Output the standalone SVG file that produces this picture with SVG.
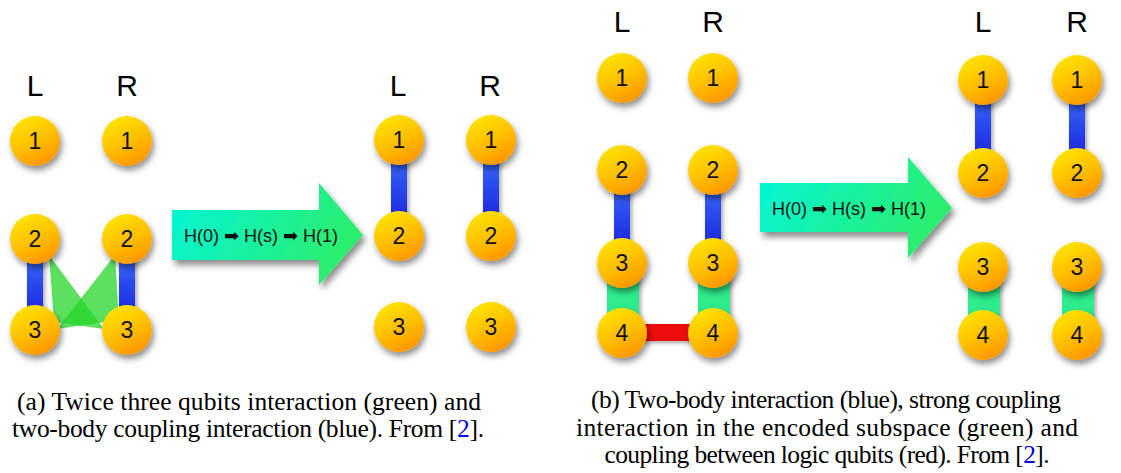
<svg xmlns="http://www.w3.org/2000/svg" width="1121" height="473" viewBox="0 0 1121 473">
<defs>
<linearGradient id="gBall" x1="0.25" y1="0" x2="0.75" y2="1">
<stop offset="0" stop-color="#FFE600"/>
<stop offset="0.5" stop-color="#FFC000"/>
<stop offset="1" stop-color="#FF9200"/>
</linearGradient>
<linearGradient id="gBlue" x1="0" y1="0" x2="0" y2="1">
<stop offset="0" stop-color="#3F7BFF"/>
<stop offset="1" stop-color="#1414D8"/>
</linearGradient>
<linearGradient id="gArrow" x1="0" y1="0" x2="1" y2="0.3">
<stop offset="0" stop-color="#00F5DC"/>
<stop offset="1" stop-color="#2BEE6E"/>
</linearGradient>
<filter id="shBall" x="-40%" y="-40%" width="180%" height="190%">
<feDropShadow dx="2" dy="4" stdDeviation="3" flood-color="#000" flood-opacity="0.45"/>
</filter>
<filter id="shBar" x="-60%" y="-30%" width="220%" height="160%">
<feDropShadow dx="2" dy="2" stdDeviation="2" flood-color="#000" flood-opacity="0.35"/>
</filter>
<filter id="shArrow" x="-10%" y="-20%" width="125%" height="150%">
<feDropShadow dx="3" dy="5" stdDeviation="3" flood-color="#000" flood-opacity="0.45"/>
</filter>
</defs>
<style>
.ball{fill:url(#gBall);filter:url(#shBall)}
.num{font-family:"Liberation Sans",Arial,sans-serif;font-size:23px;fill:#111;text-anchor:middle}
.lbl{font-family:"Liberation Sans",Arial,sans-serif;font-size:30px;fill:#000;text-anchor:middle}
.blue{fill:url(#gBlue);filter:url(#shBar)}
.green{fill:#2EEB8C;filter:url(#shBar)}
.red{fill:#EE1111;filter:url(#shBar)}
.tri{fill:#25D52A;fill-opacity:0.75}
.arrow{fill:url(#gArrow);filter:url(#shArrow)}
.atext{font-family:"Liberation Sans","DejaVu Sans",Arial,sans-serif;font-size:18px;fill:#111;text-anchor:middle}
.cap{font-family:"Liberation Serif","Times New Roman",serif;font-size:25.5px;fill:#000;text-anchor:middle}
.ref{fill:#0000EE}
</style>
<rect width="1121" height="473" fill="#fff"/>

<!-- labels -->
<g id="labels">
<text class="lbl" x="35" y="96">L</text>
<text class="lbl" x="127" y="96">R</text>
<text class="lbl" x="398" y="96">L</text>
<text class="lbl" x="490" y="96">R</text>
<text class="lbl" x="622" y="32">L</text>
<text class="lbl" x="713" y="32">R</text>
<text class="lbl" x="983" y="32">L</text>
<text class="lbl" x="1077" y="32">R</text>
</g>

<!-- connectors -->
<g id="connectors">
<!-- panel a, left -->
<rect class="blue" x="27" y="240" width="16" height="90"/>
<rect class="blue" x="119" y="240" width="16" height="90"/>
<polygon class="tri" points="49,255 54,322 104,329"/>
<polygon class="tri" points="115,255 119,320 57,329"/>
<!-- panel a, right -->
<rect class="blue" x="391" y="140" width="16" height="96"/>
<rect class="blue" x="483" y="140" width="16" height="96"/>
<!-- panel b, left -->
<rect class="blue" x="614" y="170" width="16" height="93"/>
<rect class="blue" x="705" y="170" width="16" height="93"/>
<rect class="green" x="607" y="263" width="32" height="70"/>
<rect class="green" x="698" y="263" width="32" height="70"/>
<rect class="red" x="622" y="324" width="91" height="17"/>
<!-- panel b, right -->
<rect class="blue" x="975" y="80" width="16" height="93"/>
<rect class="blue" x="1069" y="80" width="16" height="93"/>
<rect class="green" x="968" y="267" width="32" height="68"/>
<rect class="green" x="1062" y="267" width="32" height="68"/>
</g>

<!-- arrows -->
<g id="arrow-a">
<polygon class="arrow" points="172,210 319,210 319,183 363,235 319,285 319,260 172,260"/>
<text class="atext" x="261" y="242">H(0) ➡ H(s) ➡ H(1)</text>
</g>
<g id="arrow-b">
<polygon class="arrow" points="760,183 908,183 908,157 952,208 908,258 908,232 760,232"/>
<text class="atext" x="849" y="215">H(0) ➡ H(s) ➡ H(1)</text>
</g>

<!-- panel a, left nodes -->
<g id="a1-L1"><circle class="ball" cx="35" cy="141" r="25"/><text class="num" x="35" y="149">1</text></g>
<g id="a1-R1"><circle class="ball" cx="127" cy="141" r="25"/><text class="num" x="127" y="149">1</text></g>
<g id="a1-L2"><circle class="ball" cx="35" cy="239" r="25"/><text class="num" x="35" y="247">2</text></g>
<g id="a1-R2"><circle class="ball" cx="127" cy="239" r="25"/><text class="num" x="127" y="247">2</text></g>
<g id="a1-L3"><circle class="ball" cx="35" cy="330" r="25"/><text class="num" x="35" y="338">3</text></g>
<g id="a1-R3"><circle class="ball" cx="127" cy="330" r="25"/><text class="num" x="127" y="338">3</text></g>

<!-- panel a, right nodes -->
<g id="a2-L1"><circle class="ball" cx="399" cy="140" r="25"/><text class="num" x="399" y="148">1</text></g>
<g id="a2-R1"><circle class="ball" cx="491" cy="140" r="25"/><text class="num" x="491" y="148">1</text></g>
<g id="a2-L2"><circle class="ball" cx="399" cy="236" r="25"/><text class="num" x="399" y="244">2</text></g>
<g id="a2-R2"><circle class="ball" cx="491" cy="236" r="25"/><text class="num" x="491" y="244">2</text></g>
<g id="a2-L3"><circle class="ball" cx="399" cy="327" r="25"/><text class="num" x="399" y="335">3</text></g>
<g id="a2-R3"><circle class="ball" cx="491" cy="327" r="25"/><text class="num" x="491" y="335">3</text></g>

<!-- panel b, left nodes -->
<g id="b1-L1"><circle class="ball" cx="622" cy="78" r="25"/><text class="num" x="622" y="86">1</text></g>
<g id="b1-R1"><circle class="ball" cx="713" cy="78" r="25"/><text class="num" x="713" y="86">1</text></g>
<g id="b1-L2"><circle class="ball" cx="622" cy="170" r="25"/><text class="num" x="622" y="178">2</text></g>
<g id="b1-R2"><circle class="ball" cx="713" cy="170" r="25"/><text class="num" x="713" y="178">2</text></g>
<g id="b1-L3"><circle class="ball" cx="622" cy="263" r="25"/><text class="num" x="622" y="271">3</text></g>
<g id="b1-R3"><circle class="ball" cx="713" cy="263" r="25"/><text class="num" x="713" y="271">3</text></g>
<g id="b1-L4"><circle class="ball" cx="622" cy="333" r="25"/><text class="num" x="622" y="341">4</text></g>
<g id="b1-R4"><circle class="ball" cx="713" cy="333" r="25"/><text class="num" x="713" y="341">4</text></g>

<!-- panel b, right nodes -->
<g id="b2-L1"><circle class="ball" cx="983" cy="80" r="25"/><text class="num" x="983" y="88">1</text></g>
<g id="b2-R1"><circle class="ball" cx="1077" cy="80" r="25"/><text class="num" x="1077" y="88">1</text></g>
<g id="b2-L2"><circle class="ball" cx="983" cy="173" r="25"/><text class="num" x="983" y="181">2</text></g>
<g id="b2-R2"><circle class="ball" cx="1077" cy="173" r="25"/><text class="num" x="1077" y="181">2</text></g>
<g id="b2-L3"><circle class="ball" cx="983" cy="267" r="25"/><text class="num" x="983" y="275">3</text></g>
<g id="b2-R3"><circle class="ball" cx="1077" cy="267" r="25"/><text class="num" x="1077" y="275">3</text></g>
<g id="b2-L4"><circle class="ball" cx="983" cy="335" r="25"/><text class="num" x="983" y="343">4</text></g>
<g id="b2-R4"><circle class="ball" cx="1077" cy="335" r="25"/><text class="num" x="1077" y="343">4</text></g>

<!-- captions -->
<g id="caption-a">
<text class="cap" x="249" y="410" textLength="464">(a) Twice three qubits interaction (green) and</text>
<text class="cap" x="248" y="437" textLength="472">two-body coupling interaction (blue). From [<tspan class="ref">2</tspan>].</text>
</g>
<g id="caption-b">
<text class="cap" x="826" y="408" textLength="470">(b) Two-body interaction (blue), strong coupling</text>
<text class="cap" x="827" y="436" textLength="502">interaction in the encoded subspace (green) and</text>
<text class="cap" x="827" y="463" textLength="445">coupling between logic qubits (red). From [<tspan class="ref">2</tspan>].</text>
</g>
</svg>
